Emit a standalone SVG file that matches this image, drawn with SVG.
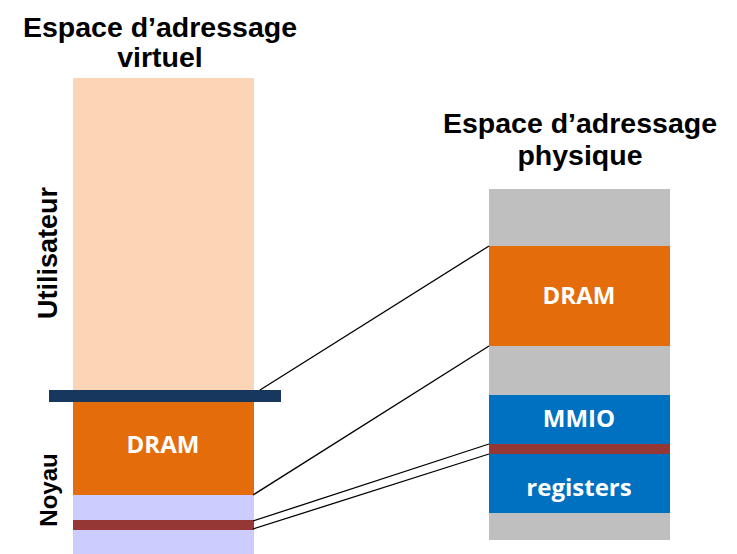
<svg xmlns="http://www.w3.org/2000/svg" width="737" height="554" viewBox="0 0 737 554">
<style>
.t{font-family:"Liberation Sans",Arial,sans-serif;font-weight:bold;font-size:28.5px;fill:#000;text-anchor:middle}
.s{font-family:"Liberation Sans",Arial,sans-serif;font-weight:bold;fill:#000;text-anchor:middle}
.w{font-family:"Open Sans","Noto Sans",sans-serif;font-weight:bold;font-size:24px;fill:#fff;text-anchor:middle}
.c{stroke:#000;stroke-width:1.3;fill:none}
</style>
<rect width="737" height="554" fill="#fff"/>
<g id="titles">
<text class="t" x="160" y="37">Espace d’adressage</text>
<text class="t" x="160" y="67">virtuel</text>
<text class="t" x="580" y="133">Espace d’adressage</text>
<text class="t" x="580" y="165">physique</text>
<text class="s" font-size="27" transform="translate(57,253) rotate(-90)">Utilisateur</text>
<text class="s" font-size="24" transform="translate(57,490) rotate(-90)">Noyau</text>
</g>
<g id="virtual">
<rect id="v-user" x="73" y="78" width="181" height="313" fill="#FBD5B5"/>
<rect id="v-dram" x="73" y="401" width="181" height="94" fill="#E46C0A"/>
<text class="w" x="163" y="453">DRAM</text>
<rect id="v-lav1" x="73" y="495" width="181" height="25" fill="#CCCCFF"/>
<rect id="v-mmio" x="73" y="520" width="181" height="10" fill="#953735"/>
<rect id="v-lav2" x="73" y="530" width="181" height="24" fill="#CCCCFF"/>
<rect id="v-bar" x="49" y="390" width="232" height="12" fill="#17375E"/>
</g>
<g id="physical">
<rect x="489" y="189" width="181" height="57" fill="#BFBFBF"/>
<rect id="p-dram" x="489" y="246" width="181" height="100" fill="#E46C0A"/>
<text class="w" x="579" y="304">DRAM</text>
<rect x="489" y="346" width="181" height="49" fill="#BFBFBF"/>
<rect id="p-mmio" x="489" y="395" width="181" height="49" fill="#0070C0"/>
<text class="w" x="579" y="427">MMIO</text>
<rect x="489" y="444" width="181" height="10" fill="#953735"/>
<rect id="p-reg" x="489" y="454" width="181" height="59" fill="#0070C0"/>
<text class="w" x="579" y="496">registers</text>
<rect x="489" y="513" width="181" height="27" fill="#BFBFBF"/>
</g>
<g id="connectors">
<line class="c" x1="260" y1="390" x2="489" y2="246"/>
<line class="c" x1="253" y1="495" x2="489" y2="346"/>
<line class="c" x1="253" y1="521" x2="489" y2="444"/>
<line class="c" x1="253" y1="529" x2="489" y2="454"/>
</g>
</svg>
